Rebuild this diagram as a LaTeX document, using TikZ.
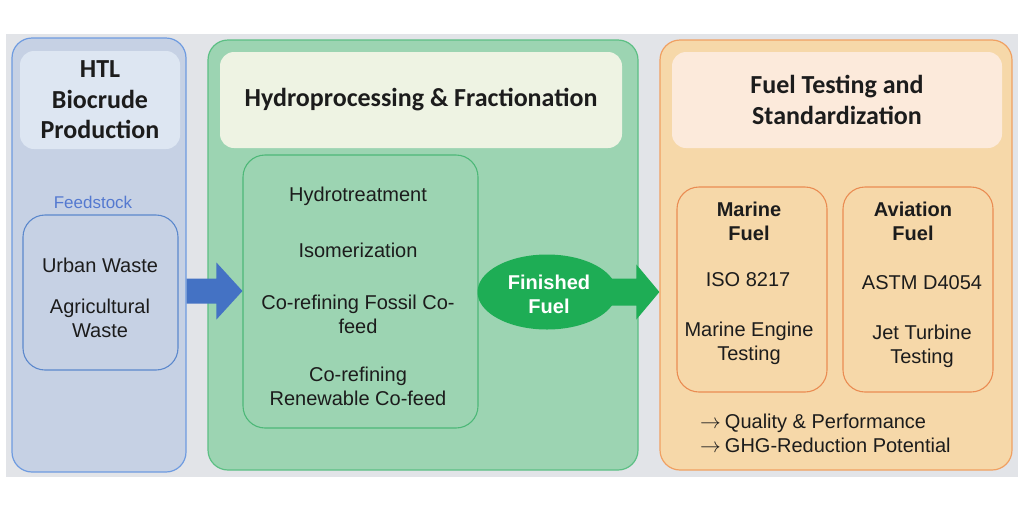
\documentclass[tikz,border=0pt]{standalone}
\usepackage{fontspec}
\setmainfont{Liberation Sans}
\newfontfamily\titlefont{Carlito}
\usetikzlibrary{shapes.geometric,calc}
\definecolor{pagegray}{HTML}{E2E4E8}
\definecolor{bluefill}{HTML}{C6D1E4}
\definecolor{blueline}{HTML}{6E9BE0}
\definecolor{bluetitle}{HTML}{DDE6F2}
\definecolor{blueinner}{HTML}{5B88CC}
\definecolor{arrowblue}{HTML}{4472C4}
\definecolor{feedblue}{HTML}{5479D0}
\definecolor{greenfill}{HTML}{9CD4B2}
\definecolor{greenline}{HTML}{5CBF84}
\definecolor{greentitle}{HTML}{EEF3E3}
\definecolor{greeninner}{HTML}{4DB878}
\definecolor{fuelgreen}{HTML}{1EAD55}
\definecolor{orangefill}{HTML}{F6D8A9}
\definecolor{orangeline}{HTML}{F0A062}
\definecolor{orangetitle}{HTML}{FCEADB}
\definecolor{orangeinner}{HTML}{EA8C52}
\definecolor{textdark}{HTML}{1C1C1C}
\newcommand{\rarr}{{\fontsize{22}{24}\selectfont$\rightarrow$}\hspace{4pt}}
\tikzset{
  panel/.style={rectangle, rounded corners=20pt, line width=1.2pt, inner sep=0pt},
  titlebox/.style={rectangle, rounded corners=14pt, inner sep=0pt, align=center,
    text=textdark, font=\titlefont\bfseries\fontsize{26}{30.5}\selectfont},
  innerbox/.style={rectangle, rounded corners=22pt, line width=1.1pt, inner sep=0pt},
  body/.style={inner sep=0pt, align=center, text=textdark,
    font=\fontsize{20}{24}\selectfont},
  bodybold/.style={body, font=\bfseries\fontsize{20}{24}\selectfont},
}
\begin{document}
\begin{tikzpicture}[x=1pt,y=-1pt]
\useasboundingbox (0,0) rectangle (1024,512);
\fill[white] (0,0) rectangle (1024,512);
\fill[pagegray] (6,34) rectangle (1018,477);

% panels
\node[panel, draw=blueline, fill=bluefill, minimum width=174pt, minimum height=434pt] (htl) at (99,255) {};
\node[panel, draw=greenline, fill=greenfill, minimum width=430pt, minimum height=430pt] (hydro) at (423,255) {};
\node[panel, draw=orangeline, fill=orangefill, minimum width=352pt, minimum height=430pt] (test) at (836,255) {};

% title boxes
\node[titlebox, fill=bluetitle, minimum width=160pt, minimum height=98pt] (htltitle) at (100,100) {HTL\\Biocrude\\Production};
\node[titlebox, fill=greentitle, minimum width=402pt, minimum height=96pt] (hydrotitle) at (421,100) {Hydroprocessing \& Fractionation};
\node[titlebox, fill=orangetitle, minimum width=330pt, minimum height=96pt] (testtitle) at (837,100) {Fuel Testing and\\Standardization};

% HTL contents
\node[inner sep=0pt, text=feedblue, font=\fontsize{17}{20}\selectfont] (feedlabel) at (93,202) {Feedstock};
\node[innerbox, draw=blueinner, fill=bluefill, minimum width=155pt, minimum height=155pt] (feed) at (100.5,292.5) {};
\node[body] (urban) at (100,265) {Urban Waste};
\node[body] (agri) at (100,318) {Agricultural\\Waste};

% hydroprocessing contents
\node[innerbox, draw=greeninner, fill=greenfill, minimum width=235pt, minimum height=273pt] (proc) at (360.5,291.5) {};
\node[body] (ht) at (358,196) {Hydrotreatment};
\node[body] (iso) at (358,250) {Isomerization};
\node[body] (cofos) at (358,314) {Co-refining Fossil Co-\\feed};
\node[body] (coren) at (358,386) {Co-refining\\Renewable Co-feed};

% testing contents
\node[innerbox, draw=orangeinner, fill=orangefill, minimum width=150pt, minimum height=205pt] (marine) at (752,289.5) {};
\node[innerbox, draw=orangeinner, fill=orangefill, minimum width=150pt, minimum height=205pt] (aviation) at (918,289.5) {};
\node[bodybold] (mtitle) at (749,221) {Marine\\Fuel};
\node[body] (iso8217) at (748,280) {ISO 8217};
\node[body] (meng) at (749,343) {Marine Engine\\Testing};
\node[bodybold] (atitle) at (913,221) {Aviation\\Fuel};
\node[body] (astm) at (922,283) {ASTM D4054};
\node[body] (jet) at (922,346) {Jet Turbine\\Testing};
\node[body, align=left, anchor=west] (notes) at (700,433) {\rarr Quality \& Performance\\\rarr GHG-Reduction Potential};

% blue arrow from HTL panel to processing box
\coordinate (ya) at (0,291);
\path (htl.east |- ya) coordinate (ba) (proc.west |- ya) coordinate (bb);
\fill[arrowblue] ($(ba)+(0,-12.5)$) -- ($(bb)+(-26,-12.5)$) -- ($(bb)+(-26,-28.5)$) -- (bb)
  -- ($(bb)+(-26,28.5)$) -- ($(bb)+(-26,12.5)$) -- ($(ba)+(0,12.5)$) -- cycle;

% finished fuel
\node[ellipse, fill=fuelgreen, minimum width=139pt, minimum height=75pt, inner sep=0pt] (ff) at (547,292) {};
\coordinate (yb) at (0,292);
\path ($(ff.east)+(-17,0)$) coordinate (ga) (test.west |- yb) coordinate (gb);
\fill[fuelgreen] ($(ga)+(0,-13.5)$) -- ($(gb)+(-23,-13.5)$) -- ($(gb)+(-23,-27.5)$) -- (gb)
  -- ($(gb)+(-23,27.5)$) -- ($(gb)+(-23,13.5)$) -- ($(ga)+(0,13.5)$) -- cycle;
\node[bodybold, text=white] (fftext) at (549,294) {Finished\\Fuel};
\end{tikzpicture}
\end{document}
